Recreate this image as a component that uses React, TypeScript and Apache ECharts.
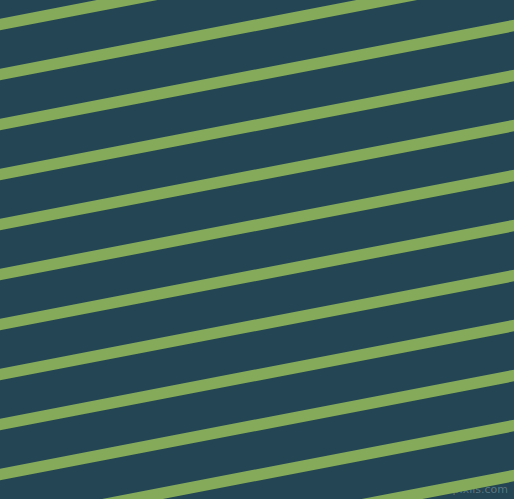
import { useEffect, useRef } from 'react';
import * as echarts from 'echarts';

// stripe centre lines, read where they cross the left (x=0) and right (x=514) edges
const STRIPE_LEFT = [24.5, 74.5, 124.5, 174.5, 224.5, 274.5, 324.5, 374.5, 424.5, 474.5, 524.5, 574.5];
const STRIPE_RIGHT = [-74.5, -24.5, 25.5, 75.5, 125.5, 175.5, 225.5, 275.5, 325.5, 375.5, 425.5, 475.5];
const X_EDGES = [0, 514];

const BG = '#234554';
const STRIPE = '#84aa5a';

export default function App() {
  const chartRef = useRef<HTMLDivElement>(null);

  useEffect(() => {
    if (!chartRef.current) return;
    const chart = echarts.init(chartRef.current, undefined, { renderer: 'svg' });
    chart.setOption({
      animation: false,
      backgroundColor: BG,
      grid: { left: 0, right: 0, top: 0, bottom: 0 },
      xAxis: { type: 'value', min: 0, max: 514, show: false },
      yAxis: { type: 'value', min: 0, max: 499, inverse: true, show: false },
      series: STRIPE_LEFT.map((y0, i) => ({
        type: 'line',
        clip: true,
        symbol: 'none',
        silent: true,
        data: [
          [X_EDGES[0], y0],
          [X_EDGES[1], STRIPE_RIGHT[i]],
        ],
        lineStyle: { color: STRIPE, width: 11.5, cap: 'square' },
      })),
      graphic: [
        {
          type: 'text',
          right: 6,
          bottom: 4,
          style: {
            text: 'pixlis.com',
            fill: 'rgba(160,180,190,0.45)',
            font: '11px "DejaVu Sans", sans-serif',
          },
        },
      ],
    });
    return () => chart.dispose();
  }, []);

  return (
    <div
      ref={chartRef}
      style={{ position: 'fixed', left: 0, top: 0, width: 514, height: 499 }}
    />
  );
}
